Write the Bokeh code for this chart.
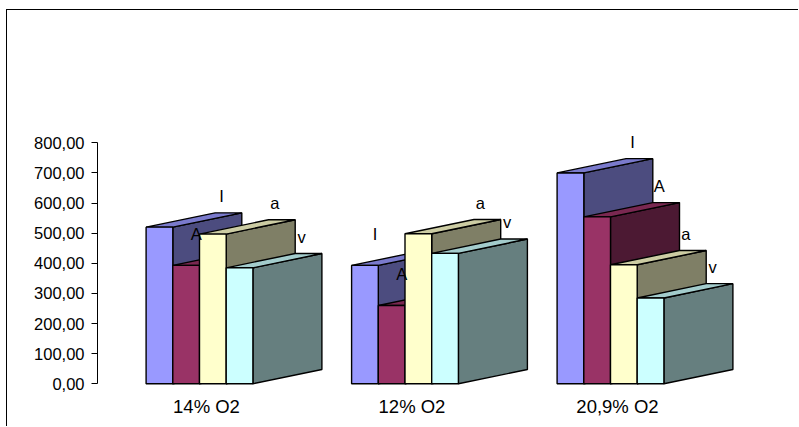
from bokeh.plotting import figure
from bokeh.models import Range1d, FixedTicker, ColumnDataSource
from bokeh.core.properties import value
from bokeh.embed import file_html
from bokeh.resources import INLINE

# ---- data ----
categories = ["14% O2", "12% O2", "20,9% O2"]
series = ["I", "A", "a", "v"]
values_I = [520, 393, 700]
values_A = [393, 260, 554]
values_a = [497, 498, 395]
values_v = [385, 433, 285]
y_ticks = [0, 100, 200, 300, 400, 500, 600, 700, 800]
y_tick_labels = ["0,00", "100,00", "200,00", "300,00", "400,00",
                 "500,00", "600,00", "700,00", "800,00"]

# ---- style ----
front_colors = ["#9999FF", "#993366", "#FFFFCC", "#CCFFFF"]
FONT = "Liberation Sans"

def shade(hex_color, f):
    h = hex_color.lstrip("#")
    r, g, b = (int(h[k:k + 2], 16) for k in (0, 2, 4))
    return "#%02x%02x%02x" % (int(r * f), int(g * f), int(b * f))

# ---- geometry (scale) ----
PX_Y = 0.30125      # pixels per value unit
PX_X = 205.5        # pixels per category unit
BAR_W = 26.7 / PX_X
DX = 69.0 / PX_X
DY = 14.3 / PX_Y
FRONT_SHIFT = -7.0 / PX_X
LABEL_DX = 62.0 / PX_X
LABEL_DX_ALT = 10.0 / PX_X
LABEL_DY = 31.0 / PX_Y
LABEL_HW = 6.0 / PX_X
LABEL_HH = 8.0 / PX_Y

# window layout
W, H = 792, 417
ML, MT = 6, 9
OX, OY = ML + 1, MT + 1
frame_left_win = 97
frame_bottom_win = 390
zero_win = 383.3
cat0_win = 206.0

x_start = (frame_left_win - cat0_win) / PX_X
x_end = (OX + W - cat0_win) / PX_X
y_start = -(frame_bottom_win - zero_win) / PX_Y
y_end = (zero_win - OY) / PX_Y

p = figure(width=W, height=H, output_backend="svg", toolbar_location=None,
           x_range=Range1d(x_start, x_end), y_range=Range1d(y_start, y_end),
           min_border_left=frame_left_win - OX, min_border_right=0,
           min_border_top=0, min_border_bottom=OY + H - frame_bottom_win)
p.margin = (MT, 0, 0, ML)
p.styles = {"border-left": "1px solid #000000", "border-top": "1px solid #000000"}
p.background_fill_color = "white"
p.border_fill_color = "white"
p.outline_line_color = None
p.grid.visible = False


def silhouette_top(x, x0, x1, h):
    """Upper outline of a 3D bar at abscissa x (None if outside)."""
    if x < x0 or x > x1 + DX:
        return None
    if x < x0 + DX:
        return h + DY * (x - x0) / DX
    return h + DY


# ---- bars ----
all_vals = [values_I, values_A, values_a, values_v]
xs, ys, cols = [], [], []
lx, ly, lt = [], [], []
for i in range(len(categories)):
    lefts = [i + FRONT_SHIFT - 2 * BAR_W + j * BAR_W for j in range(len(series))]
    for j in range(len(series)):
        h = all_vals[j][i]
        x0 = lefts[j]
        x1 = x0 + BAR_W
        # side
        xs.append([x1, x1 + DX, x1 + DX, x1]); ys.append([0, DY, h + DY, h])
        cols.append(shade(front_colors[j], 0.5))
        # top
        xs.append([x0, x1, x1 + DX, x0 + DX]); ys.append([h, h, h + DY, h + DY])
        cols.append(shade(front_colors[j], 0.8))
        # front
        xs.append([x0, x1, x1, x0]); ys.append([0, 0, h, h])
        cols.append(front_colors[j])
        # data label: default spot, moved left if a later bar hides it
        cx = (x0 + x1) / 2
        px, py = cx + LABEL_DX, h + LABEL_DY
        hidden = False
        for k in range(j + 1, len(series)):
            hk = all_vals[k][i]
            for sx in (px - LABEL_HW, px, px + LABEL_HW):
                t = silhouette_top(sx, lefts[k], lefts[k] + BAR_W, hk)
                if t is not None and py - LABEL_HH < t:
                    hidden = True
        if hidden:
            px = cx + LABEL_DX_ALT
        lx.append(px)
        ly.append(py)
        lt.append(series[j])

p.patches(xs=xs, ys=ys, fill_color=cols, line_color="black", line_width=1.4)

lsrc = ColumnDataSource(dict(x=lx, y=ly, t=lt))
p.text(x="x", y="y", text="t", source=lsrc, text_align="center",
       text_baseline="middle", text_font=value(FONT), text_font_size="16.5px",
       text_color="black")

# ---- axes ----
ya = p.yaxis[0]
ya.ticker = FixedTicker(ticks=y_ticks)
ya.major_label_overrides = {t: l for t, l in zip(y_ticks, y_tick_labels)}
ya.bounds = (0, 800)
ya.major_tick_out = 6
ya.major_tick_in = 0
ya.minor_tick_out = 0
ya.minor_tick_in = 0
ya.axis_line_color = "black"
ya.major_tick_line_color = "black"
ya.major_label_standoff = 7
ya.major_label_text_font = FONT
ya.major_label_text_font_size = "16.5px"
ya.major_label_text_color = "black"

xa = p.xaxis[0]
xa.ticker = FixedTicker(ticks=list(range(len(categories))))
xa.major_label_overrides = {i: c for i, c in enumerate(categories)}
xa.axis_line_color = None
xa.major_tick_line_color = None
xa.minor_tick_line_color = None
xa.major_tick_out = 0
xa.major_tick_in = 0
xa.major_label_standoff = 5
xa.major_label_text_font = FONT
xa.major_label_text_font_size = "18.5px"
xa.major_label_text_color = "black"

open("out.html", "w").write(file_html(p, INLINE))
